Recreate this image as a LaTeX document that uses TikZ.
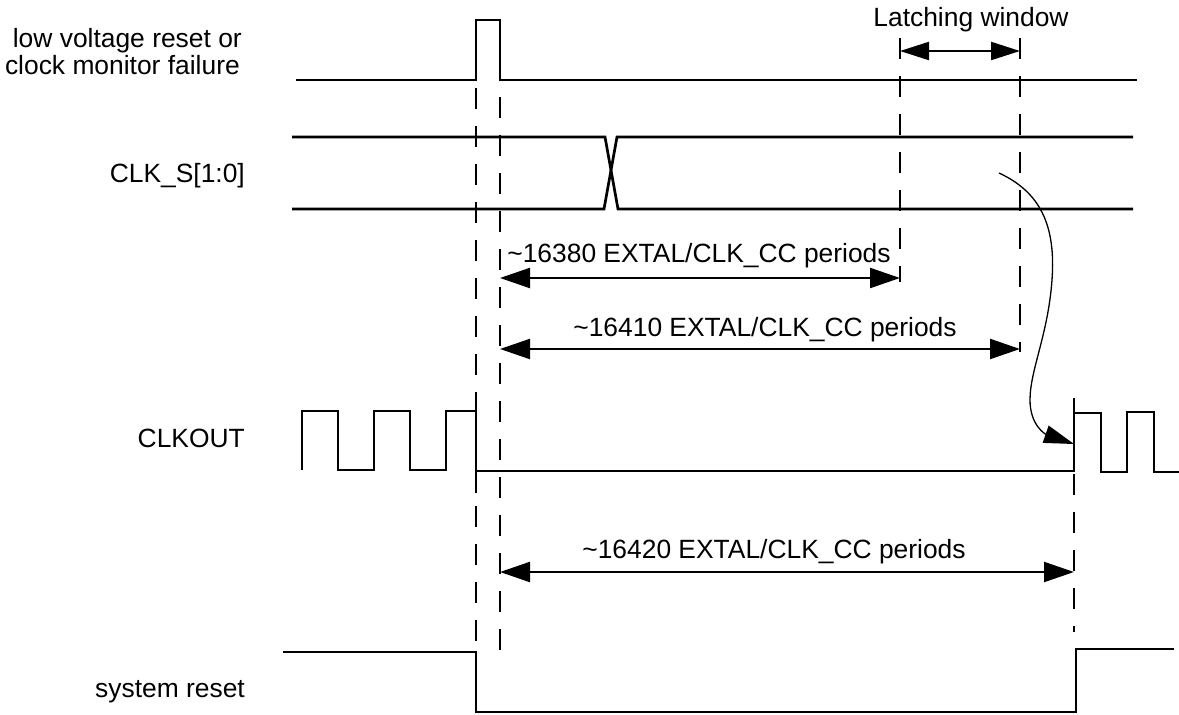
\documentclass[tikz,border=0pt]{standalone}
\usepackage{fontspec}
\setmainfont{Liberation Sans}
\usetikzlibrary{arrows.meta}
\begin{document}
\begin{tikzpicture}[x=1pt,y=-1pt,
  wave/.style={line width=2.7pt, line join=miter},
  guide/.style={line width=2.5pt, dash pattern=on 21pt off 17pt},
  dimarrow/.style={line width=2.2pt, {Triangle[length=30pt,width=20pt]}-{Triangle[length=30pt,width=20pt]}},
  curvearrow/.style={line width=1.3pt, -{Triangle[length=30pt,width=18pt]}},
  lbl/.style={inner sep=0pt, font=\fontsize{26.4}{28}\selectfont}
]
\useasboundingbox (0,0) rectangle (1179,715);

% labels
\node[lbl, anchor=base east] (l1a) at (242,47) {low voltage reset or};
\node[lbl, anchor=base east] (l1b) at (240,74) {clock monitor failure};
\node[lbl, anchor=base east] (l2) at (245,182) {CLK\_S[1:0]};
\node[lbl, anchor=base east] (l3) at (245,447) {CLKOUT};
\node[lbl, anchor=base east] (l4) at (245,697) {system reset};
\node[lbl, anchor=base] (lw) at (971,26) {Latching window};

% guide coordinates
\coordinate (gA1) at (476,88);   \coordinate (gA2) at (476,652);
\coordinate (gB1) at (500,97);   \coordinate (gB2) at (500,662);
\coordinate (gC1) at (900,38);   \coordinate (gC2) at (900,282);
\coordinate (gD1) at (1020,38);  \coordinate (gD2) at (1020,352);
\coordinate (gE1) at (1074,398); \coordinate (gE2) at (1074,632);

% dashed guides
\draw[guide] (gA1) -- (gA2);
\draw[guide] (gB1) -- (gB2);
\draw[guide] (gC1) -- (gC2);
\draw[guide] (gD1) -- (gD2);
\draw[guide] (gE1) -- (gE2);

% low voltage reset / clock monitor failure
\draw[wave] (296,80) -- (476,80) -- (476,20) -- (500,20) -- (500,80) -- (1137,80);

% CLK_S[1:0]
\draw[wave] (292,137) -- (605,137) -- (618,209) -- (1133,209);
\draw[wave] (292,209) -- (604,209) -- (617,137) -- (1133,137);

% CLKOUT
\draw[wave] (302,470) -- (302,411) -- (338,411) -- (338,470) -- (374,470) -- (374,411)
  -- (410,411) -- (410,470) -- (446,470) -- (446,411) -- (476,411);
\draw[wave] (476,395) -- (476,493);
\draw[wave] (476,471) -- (1074,471);
\draw[wave] (1074,472) -- (1074,413) -- (1101,413) -- (1101,472) -- (1127,472)
  -- (1127,412) -- (1154,412) -- (1154,472) -- (1179,472);

% system reset
\draw[wave] (283,652) -- (476,652) -- (476,712) -- (1076,712) -- (1076,649) -- (1174,649);

% latching window arrow
\coordinate (lwa) at (900,51); \coordinate (lwb) at (1020,51);
\draw[line width=2.2pt, {Triangle[length=29pt,width=18pt]}-{Triangle[length=29pt,width=18pt]}] (lwa) -- (lwb);

% dimension arrows
\coordinate (d1a) at (500,278); \coordinate (d1b) at (900,278);
\draw[dimarrow] (d1a) -- (d1b);
\node[lbl, anchor=base] (t1) at (699,262) {\char`\~16380 EXTAL/CLK\_CC periods};

\coordinate (d2a) at (500,349); \coordinate (d2b) at (1020,349);
\draw[dimarrow] (d2a) -- (d2b);
\node[lbl, anchor=base] (t2) at (765,336) {\char`\~16410 EXTAL/CLK\_CC periods};

\coordinate (d3a) at (500,572); \coordinate (d3b) at (1074,572);
\draw[dimarrow] (d3a) -- (d3b);
\node[lbl, anchor=base] (t3) at (774,558) {\char`\~16420 EXTAL/CLK\_CC periods};

% curved causal arrow
\coordinate (cs) at (999,173);
\coordinate (ce) at (1074,444);
\draw[curvearrow] (cs) .. controls (1040,192) and (1056,225) .. (1052,280)
  .. controls (1048,335) and (1030,370) .. (1030,400)
  .. controls (1030,425) and (1045,434) .. (ce);
\end{tikzpicture}
\end{document}
